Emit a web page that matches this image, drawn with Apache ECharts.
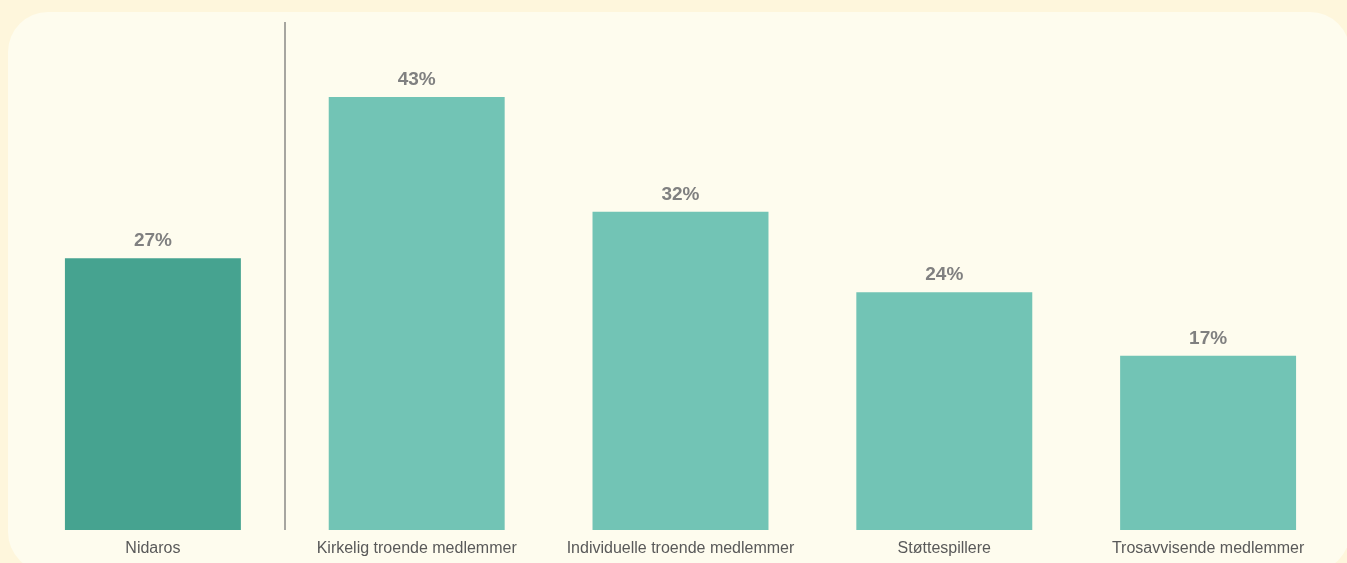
<!DOCTYPE html>
<html><head><meta charset="utf-8">
<script src="https://cdn.jsdelivr.net/npm/echarts@6/dist/echarts.min.js"></script>
<style>html,body{margin:0;padding:0;background:#FEF6DC;}#c{width:1347px;height:563px;}</style>
</head><body><div id="c"></div>
<script>
const categories = ["Nidaros", "Kirkelig troende medlemmer", "Individuelle troende medlemmer", "Støttespillere", "Trosavvisende medlemmer"];
const values = [27.0, 43.0, 31.6, 23.6, 17.3];
const barColors = ["#46A390", "#72C4B5", "#72C4B5", "#72C4B5", "#72C4B5"];
const dividerAfter = 1; // boundary after the first category

const chart = echarts.init(document.getElementById('c'), null, {renderer: 'canvas'});
chart.setOption({
  backgroundColor: '#FEF6DC',
  animation: false,
  graphic: [{
    type: 'rect', z: -10, silent: true,
    shape: {x: 8, y: 12, width: 1342, height: 560, r: 40},
    style: {fill: '#FEFCEE'}
  }],
  grid: {left: 21, right: 7, top: 22, bottom: 33, containLabel: false},
  xAxis: [{
    type: 'category', data: categories,
    axisLine: {show: false}, axisTick: {show: false},
    axisLabel: {color: '#595959', fontSize: 16, fontFamily: 'Liberation Sans, Arial, sans-serif', margin: 11, interval: 0},
    splitLine: {show: false}
  }, {
    type: 'value', min: 0, max: categories.length, show: false, splitLine: {show: false}
  }],
  yAxis: {type: 'value', min: 0, max: 50.45, show: false, splitLine: {show: false}},
  series: [{
    type: 'bar',
    data: values.map((v, i) => ({value: v, itemStyle: {color: barColors[i]}})),
    barWidth: '66.7%',
    label: {
      show: true, position: 'top', distance: 8,
      formatter: p => Math.round(p.value) + '%',
      color: '#808080', fontSize: 19, fontWeight: 'bold', fontFamily: 'Liberation Sans, Arial, sans-serif'
    }
  }, {
    type: 'line', xAxisIndex: 1, data: [],
    markLine: {
      silent: true, symbol: 'none', label: {show: false},
      lineStyle: {color: '#8A8A86', width: 1.5, type: 'solid'},
      data: [{xAxis: dividerAfter}]
    }
  }]
});
</script></body></html>
